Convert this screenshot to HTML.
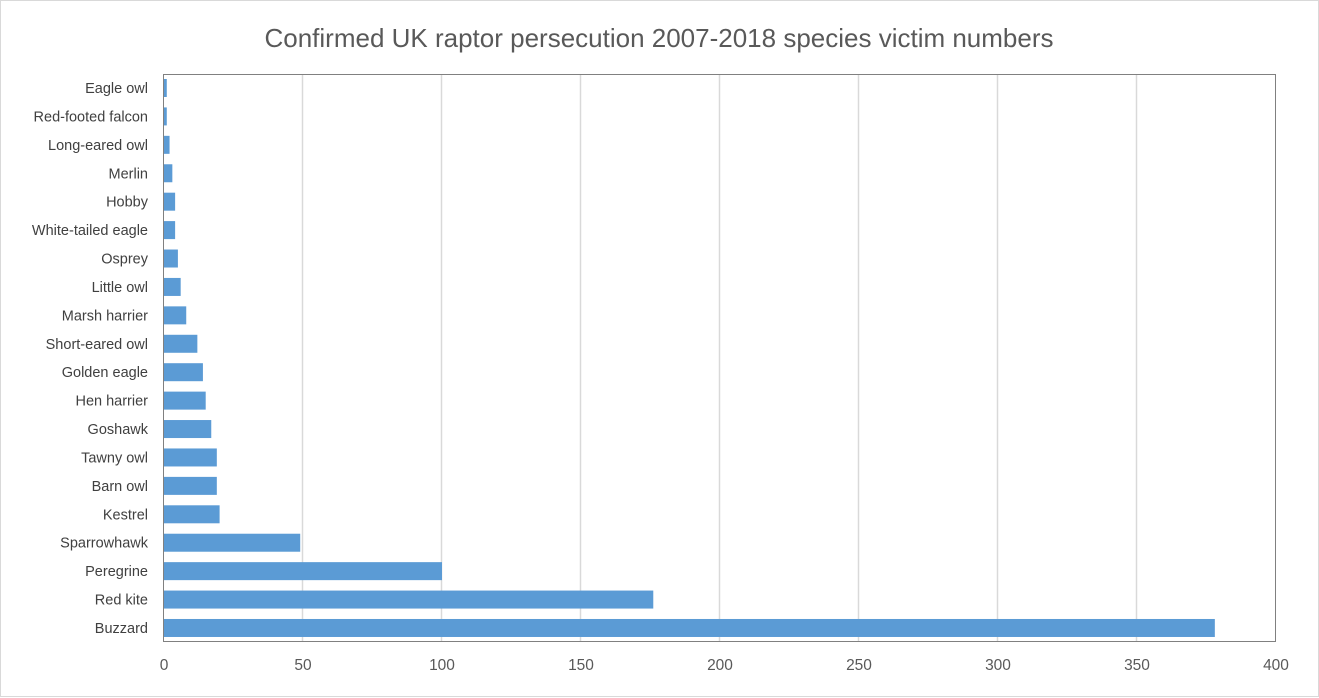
<!DOCTYPE html>
<html><head><style>
html,body{margin:0;padding:0;background:#fff}
svg{display:block;font-family:"Liberation Sans",sans-serif}
</style></head><body>
<svg width="1319" height="698" xmlns="http://www.w3.org/2000/svg">
<rect x="0.5" y="0.5" width="1318" height="696" fill="#fff" stroke="#d9d9d9"/>
<text x="659" y="47" text-anchor="middle" font-size="26" fill="#595959">Confirmed UK raptor persecution 2007-2018 species victim numbers</text>
<g stroke="#d9d9d9" stroke-width="1.5">
<line x1="302.5" y1="74" x2="302.5" y2="642"/>
<line x1="441.5" y1="74" x2="441.5" y2="642"/>
<line x1="580.5" y1="74" x2="580.5" y2="642"/>
<line x1="719.5" y1="74" x2="719.5" y2="642"/>
<line x1="858.5" y1="74" x2="858.5" y2="642"/>
<line x1="997.5" y1="74" x2="997.5" y2="642"/>
<line x1="1136.5" y1="74" x2="1136.5" y2="642"/>
</g>
<rect x="163.5" y="74.5" width="1112" height="567" fill="none" stroke="#808080"/>
<g id="bars" fill="#5b9bd5"></g>
<g id="labels" font-size="14.5" fill="#404040" text-anchor="end"></g>
<g font-size="15.5" fill="#595959" text-anchor="middle">
<text x="164" y="670">0</text><text x="303" y="670">50</text><text x="442" y="670">100</text><text x="581" y="670">150</text><text x="720" y="670">200</text><text x="859" y="670">250</text><text x="998" y="670">300</text><text x="1137" y="670">350</text><text x="1276" y="670">400</text>
</g>
<script>
var d=[["Eagle owl",1],["Red-footed falcon",1],["Long-eared owl",2],["Merlin",3],["Hobby",4],["White-tailed eagle",4],["Osprey",5],["Little owl",6],["Marsh harrier",8],["Short-eared owl",12],["Golden eagle",14],["Hen harrier",15],["Goshawk",17],["Tawny owl",19],["Barn owl",19],["Kestrel",20],["Sparrowhawk",49],["Peregrine",100],["Red kite",176],["Buzzard",378]];
var b=document.getElementById("bars"),l=document.getElementById("labels"),ns="http://www.w3.org/2000/svg";
d.forEach(function(r,i){var c=88+i*28.42;var e=document.createElementNS(ns,"rect");e.setAttribute("x",164);e.setAttribute("y",c-9);e.setAttribute("height",18);e.setAttribute("width",r[1]*2.78);b.appendChild(e);
var t=document.createElementNS(ns,"text");t.setAttribute("x",148);t.setAttribute("y",c+5);t.textContent=r[0];l.appendChild(t);});
</script>
</svg>
</body></html>
